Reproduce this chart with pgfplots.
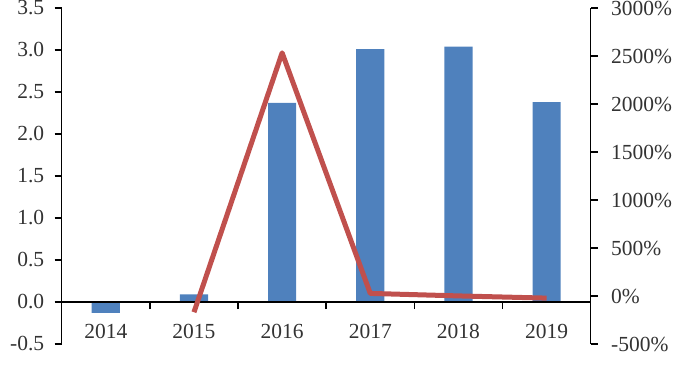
\documentclass[border=0pt]{standalone}
\usepackage{pgfplots}
\pgfplotsset{compat=1.18}
\usepackage{fontspec}
\setmainfont{Liberation Serif}
\definecolor{barblue}{HTML}{4F81BD}
\definecolor{linered}{HTML}{C0504D}
\pgfplotsset{/pgf/number format/assume math mode=true}
\begin{document}
\begin{tikzpicture}
\useasboundingbox (0,0) rectangle (700pt,383pt);
\begin{axis}[
  at={(61.7pt,39pt)}, anchor=south west,
  scale only axis, width=529pt, height=336pt,
  xmin=-0.5, xmax=5.5, ymin=-0.5, ymax=3.5,
  axis y line*=left, axis x line=middle,
  x axis line style={-}, y axis line style={-},
  hide obscured x ticks=false,
  axis line style={line width=1.5pt},
  tick align=outside,
  xtick={0,...,5},
  xticklabels={2014,2015,2016,2017,2018,2019},
  major x tick style={draw=none},
  minor xtick={0.5,1.5,...,4.5},
  minor x tick style={line width=1.5pt, black},
  minor tick length=7pt,
  major tick length=7pt,
  ytick={-0.5,0,...,3.5},
  y tick style={line width=1.5pt, black},
  yticklabel style={xshift=-7pt, /pgf/number format/fixed, /pgf/number format/fixed zerofill, /pgf/number format/precision=1},
  tick label style={font=\fontsize{21.5}{25}\selectfont, text=black!80},
  xticklabel style={yshift=-12pt},
  axis on top,
]
\addplot[ybar, bar width=0.32, fill=barblue, draw=none] coordinates {(0,-0.13) (1,0.09) (2,2.37) (3,3.01) (4,3.04) (5,2.38)};
\end{axis}
\begin{axis}[
  at={(61.7pt,39pt)}, anchor=south west,
  scale only axis, width=529pt, height=336pt,
  xmin=-0.5, xmax=5.5, ymin=-500, ymax=3000,
  axis x line=none, axis y line*=right,
  y axis line style={-, line width=1.5pt},
  tick align=outside,
  major tick length=7pt,
  ytick={-500,0,...,3000},
  y tick style={line width=1.5pt, black},
  yticklabel={\pgfmathprintnumber[1000 sep={}]{\tick}\%},
  yticklabel style={xshift=10pt},
  tick label style={font=\fontsize{21.5}{25}\selectfont, text=black!80},
]
\addplot[linered, line width=5pt, line join=round] coordinates {(1,-169) (2,2533) (3,27) (4,1) (5,-22)};
\end{axis}
\end{tikzpicture}
\end{document}
